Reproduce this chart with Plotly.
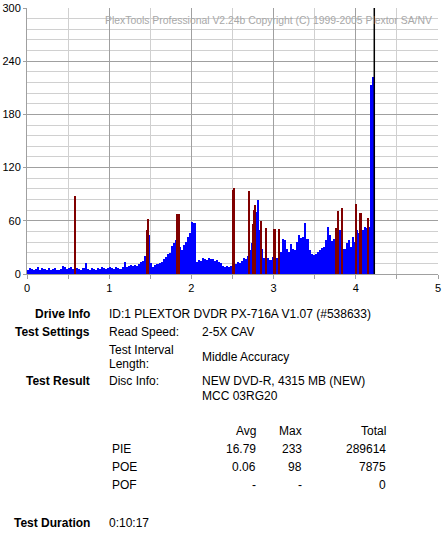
import plotly.graph_objects as go

# ---------------- data ----------------
pie_step = 0.025  # GB per PIE sample bin
pie_values = [
    4, 7, 6, 4, 6, 8, 5, 7, 6, 5,
    7, 4, 6, 7, 5, 4, 6, 9, 8, 6,
    7, 8, 6, 5, 7, 6, 5, 7, 12, 6,
    5, 7, 6, 5, 7, 6, 8, 7, 6, 7,
    8, 7, 6, 8, 7, 6, 8, 14, 8, 9,
    10, 9, 10, 9, 11, 14, 15, 20, 27, 44,
    12, 8, 10, 11, 12, 14, 17, 19, 22, 24,
    32, 35, 38, 52, 30, 27, 33, 36, 42, 46,
    59, 58, 14, 16, 15, 18, 17, 16, 18, 17,
    17, 15, 16, 14, 12, 9, 8, 9, 8, 9,
    12, 11, 13, 12, 15, 18, 17, 20, 27, 35,
    57, 70, 84, 50, 28, 18, 17, 18, 16, 19,
    20, 18, 23, 25, 39, 38, 28, 25, 34, 28,
    27, 36, 44, 41, 42, 57, 40, 27, 23, 21,
    22, 25, 27, 29, 30, 38, 53, 44, 37, 40,
    46, 42, 50, 36, 28, 35, 38, 31, 42, 36,
    50, 46, 55, 50, 53, 52, 53, 213, 222,
]
pie_x = [pie_step * (i + 0.5) for i in range(len(pie_values))]

poe_x = [0.59, 1.465, 1.48, 1.83, 1.855, 2.505, 2.52, 2.70, 2.75, 2.765,
         2.78, 2.85, 2.91, 3.01, 3.025, 3.07, 3.76, 3.79, 3.83, 4.01,
         4.06, 4.15]
poe_values = [88, 50, 62, 68, 68, 95, 97, 94, 56, 72,
              78, 60, 52, 51, 51, 51, 52, 71, 74, 79,
              69, 63]

disc_end = 4.225

x_ticks = [0, 1, 2, 3, 4, 5]
y_ticks = [0, 60, 120, 180, 240, 300]

watermark = "PlexTools Professional V2.24b Copyright (C) 1999-2005 Plextor SA/NV"

info_labels = ["Drive Info", "Test Settings", "Test Result", "Test Duration"]
drive_info = "ID:1 PLEXTOR DVDR PX-716A V1.07 (#538633)"
read_speed_label = "Read Speed:"
read_speed = "2-5X CAV"
interval_label = ["Test Interval", "Length:"]
interval = "Middle Accuracy"
disc_label = "Disc Info:"
disc_info = ["NEW DVD-R, 4315 MB (NEW)", "MCC 03RG20"]
duration = "0:10:17"

stat_headers = ["Avg", "Max", "Total"]
stat_rows = ["PIE", "POE", "POF"]
stat_avg = ["16.79", "0.06", "-"]
stat_max = ["233", "98", "-"]
stat_total = ["289614", "7875", "0"]

# ---------------- figure ----------------
W, H = 444, 533
L, R, T, B = 27, 6, 8, 259
PW, PH = W - L - R, H - T - B

def px(x):
    return (x - L) / PW

def py(y):
    return (H - B - y) / PH

FONT = "Liberation Sans, Arial, sans-serif"

fig = go.Figure()
fig.add_trace(go.Bar(x=pie_x, y=pie_values, width=pie_step,
                     marker=dict(color="#0000ff", line=dict(width=0)),
                     name="PIE", showlegend=False))
fig.add_trace(go.Bar(x=poe_x, y=poe_values, width=0.02,
                     marker=dict(color="#800000", line=dict(width=0)),
                     name="POE", showlegend=False))
fig.add_vline(x=disc_end, line=dict(color="black", width=1.5))

fig.update_layout(
    width=W, height=H,
    margin=dict(l=L, r=R, t=T, b=B, autoexpand=False),
    paper_bgcolor="white", plot_bgcolor="white",
    barmode="overlay", bargap=0,
    font=dict(family=FONT, size=12, color="black"),
    xaxis=dict(range=[0, 5], tickvals=x_ticks, ticktext=[str(v) for v in x_ticks],
               showgrid=True, gridcolor="#a0a0a0", gridwidth=1,
               minor=dict(dtick=0.5, showgrid=True, gridcolor="#d0d0d0",
                          ticks="outside", ticklen=4, tickcolor="#a0a0a0"),
               ticks="outside", ticklen=4, tickcolor="#a0a0a0",
               showline=True, linecolor="#a0a0a0", zeroline=False,
               tickfont=dict(size=11), fixedrange=True, automargin=False),
    yaxis=dict(range=[0, 300], tickvals=y_ticks, ticktext=[str(v) for v in y_ticks],
               showgrid=True, gridcolor="#a0a0a0", gridwidth=1,
               minor=dict(dtick=12, showgrid=True, gridcolor="#d0d0d0"),
               ticks="outside", ticklen=3, tickcolor="#a0a0a0",
               showline=True, linecolor="#a0a0a0", zeroline=False,
               tickfont=dict(size=11), fixedrange=True, automargin=False),
)

ann = []
def text(s, x, y, anchor="left", bold=False, size=12, color="black"):
    ann.append(dict(text=("<b>%s</b>" % s) if bold else s,
                    xref="paper", yref="paper", x=px(x), y=py(y),
                    xanchor=anchor, yanchor="middle", showarrow=False,
                    font=dict(family=FONT, size=size, color=color)))

text(watermark, 434, 20, anchor="right", size=10.4, color="#a8a8a8")

label_y = [314, 331.5, 381, 523]
for s, y in zip(info_labels, label_y):
    text(s, 92, y, anchor="right", bold=True)

text(drive_info, 107, 314)
text(read_speed_label, 107, 331.5)
text(read_speed, 200, 331.5)
text(interval_label[0], 107, 350)
text(interval_label[1], 107, 363.5)
text(interval, 200, 357)
text(disc_label, 107, 381)
text(disc_info[0], 200, 381)
text(disc_info[1], 200, 396)
text(duration, 107, 523)

col_right = [258, 304, 388]
for s, xr in zip(stat_headers, col_right):
    text(s, xr, 431, anchor="right")
row_y = [449, 467, 485]
for i, y in enumerate(row_y):
    text(stat_rows[i], 110, y)
    text(stat_avg[i], col_right[0], y, anchor="right")
    text(stat_max[i], col_right[1], y, anchor="right")
    text(stat_total[i], col_right[2], y, anchor="right")

fig.update_layout(annotations=ann)
fig.write_html("out.html", config={"displayModeBar": False},
               post_script="document.body.style.margin='0';")
